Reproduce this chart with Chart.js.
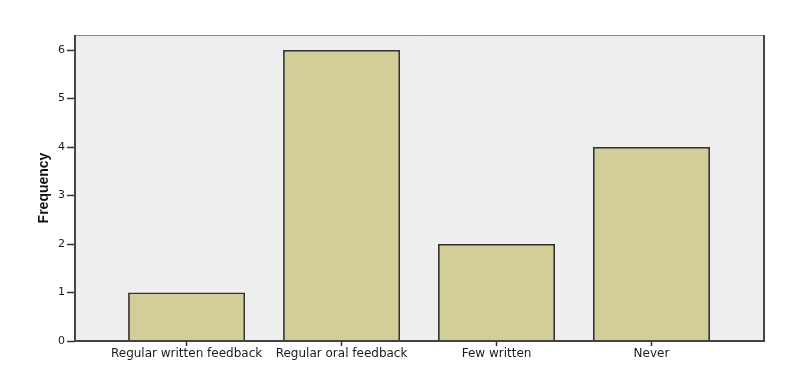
<!DOCTYPE html>
<html>
<head>
<meta charset="utf-8">
<script src="https://cdn.jsdelivr.net/npm/chart.js@4.4.1/dist/chart.umd.min.js"></script>
<style>
  html, body { margin: 0; padding: 0; background: #fff; }
  #wrap { width: 797px; height: 377px; }
</style>
</head>
<body>
<div id="wrap"><canvas id="myChart" width="797" height="377"></canvas></div>
<script>
var categories = ["Regular written feedback", "Regular oral feedback", "Few written", "Never"];
var frequency = [1, 6, 2, 4];
var yTicks = [0, 1, 2, 3, 4, 5, 6];

// plot frame + grey background
var plotFrame = {
  id: 'plotFrame',
  beforeDraw: function(chart) {
    var a = chart.chartArea, c = chart.ctx;
    c.save();
    c.fillStyle = '#eeeeee';
    c.fillRect(a.left, a.top, a.right - a.left, a.bottom - a.top);
    c.restore();
  },
  afterDatasetsDraw: function(chart) {
    var a = chart.chartArea, c = chart.ctx;
    c.save();
    c.strokeStyle = '#8a8a8a';
    c.lineWidth = 1;
    c.beginPath(); c.moveTo(a.left, a.top + 0.5); c.lineTo(a.right, a.top + 0.5); c.stroke();
    c.strokeStyle = '#444';
    c.lineWidth = 2;
    c.beginPath();
    c.moveTo(a.left, a.top); c.lineTo(a.left, a.bottom); c.lineTo(a.right, a.bottom); c.lineTo(a.right, a.top);
    c.stroke();
    c.restore();
  }
};

var pts = frequency.map(function(v, i) { return { x: i + 1, y: v }; });

var ctx = document.getElementById('myChart');
var myChart = new Chart(ctx, {
  type: 'bar',
  data: {
    datasets: [{
      data: pts,
      backgroundColor: '#d3ce97',
      borderColor: '#333333',
      borderWidth: 1.8,
      barPercentage: 0.755,
      categoryPercentage: 1
    }]
  },
  plugins: [plotFrame],
  options: {
    responsive: false,
    animation: false,
    layout: { padding: { top: 35, right: 33, left: 0, bottom: 0 } },
    plugins: { legend: { display: false }, tooltip: { enabled: false } },
    scales: {
      x: {
        type: 'linear',
        offset: false,
        min: 0.28,
        max: 4.726,
        afterBuildTicks: function(s) { s.ticks = categories.map(function(c, i) { return { value: i + 1 }; }); },
        afterFit: function(s) { s.height = 36; },
        ticks: {
          autoSkip: false,
          maxRotation: 0,
          padding: 1,
          color: '#1a1a1a',
          font: { family: '"DejaVu Sans", sans-serif', size: 12 },
          callback: function(v) { return categories[v - 1] || ''; }
        },
        grid: { offset: false, drawOnChartArea: false, tickLength: 5, color: '#333', tickWidth: 1.5 },
        border: { display: false }
      },
      y: {
        min: 0,
        max: 6.31,
        afterBuildTicks: function(s) { s.ticks = yTicks.map(function(v) { return { value: v }; }); },
        afterFit: function(s) { s.width = 75; },
        ticks: {
          padding: 2,
          color: '#1a1a1a',
          font: { family: '"DejaVu Sans", sans-serif', size: 11 }
        },
        grid: { drawOnChartArea: false, tickLength: 8, color: '#333', tickWidth: 1.5 },
        border: { display: false },
        title: {
          display: true,
          text: 'Frequency',
          color: '#111',
          padding: { top: 36, bottom: 0 },
          font: { family: 'Arial, "Liberation Sans", sans-serif', size: 14, weight: 'bold' }
        }
      }
    }
  }
});
</script>
</body>
</html>
